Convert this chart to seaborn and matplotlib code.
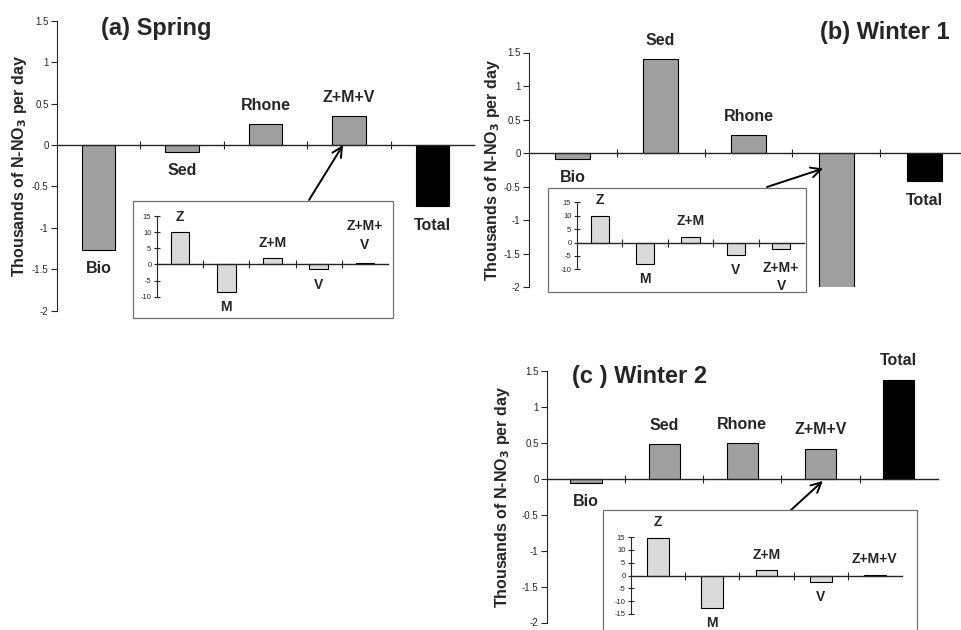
import numpy as np
import pandas as pd
import matplotlib
matplotlib.use("Agg")
import matplotlib.pyplot as plt
from matplotlib.patches import Rectangle
import seaborn as sns

# data (thousands of N-NO3 per day)
main_cats = ["Bio", "Sed", "Rhone", "Z+M+V", "Total"]
spring_vals = [-1.27, -0.085, 0.25, 0.35, -0.74]
winter1_vals = [-0.09, 1.40, 0.27, -2.03, -0.42]
winter2_vals = [-0.06, 0.485, 0.495, 0.42, 1.38]

inset_cats = ["Z", "M", "Z+M", "V", "Z+M+V"]
spring_inset = [10.1, -8.5, 1.9, -1.5, 0.3]
winter1_inset = [10.0, -8.1, 2.2, -4.6, -2.5]
winter2_inset = [14.7, -12.5, 2.1, -2.5, 0.3]
inset_labels_ab = ["Z", "M", "Z+M", "V", "Z+M+\nV"]
inset_labels_c = ["Z", "M", "Z+M", "V", "Z+M+V"]

main_yticks = [-2, -1.5, -1, -0.5, 0, 0.5, 1, 1.5]
inset_yticks_ab = [-10, -5, 0, 5, 10, 15]
inset_yticks_c = [-15, -10, -5, 0, 5, 10, 15]

sns.set_style("ticks")
plt.rcParams["font.family"] = ["Liberation Sans", "DejaVu Sans"]

W, H = 961, 630
fig = plt.figure(figsize=(W / 100, H / 100), dpi=100)


def px_axes(x0, y0, x1, y1):
    return fig.add_axes([x0 / W, 1 - y1 / H, (x1 - x0) / W, (y1 - y0) / H])


def draw_bars(ax, cats, vals, colors, labels, ylim, yticks, tick_fs, label_fs, base_off, tick_dir):
    df = pd.DataFrame({"cat": cats, "val": vals})
    sns.barplot(data=df, x="cat", y="val", hue="cat", order=cats, palette=dict(zip(cats, colors)),
                legend=False, width=0.4, edgecolor="black", linewidth=0.8, ax=ax)
    ax.set_xlim(-0.5, 4.5)
    ax.set_ylim(*ylim)
    ax.set_xlabel("")
    ax.set_ylabel("")
    for s in ["top", "right"]:
        ax.spines[s].set_visible(False)
    ax.spines["bottom"].set_position(("data", 0))
    ax.spines["left"].set_bounds(*ylim)
    ax.spines["bottom"].set_linewidth(1.0)
    ax.spines["left"].set_linewidth(0.8)
    ax.set_xticks([0.5, 1.5, 2.5, 3.5])
    ax.set_xticklabels([])
    ax.tick_params(axis="x", direction="inout", length=6, width=0.8)
    ax.set_yticks(yticks)
    ax.set_yticklabels([f"{t:g}" for t in yticks], fontsize=tick_fs)
    ax.tick_params(axis="y", direction=tick_dir, length=4, width=0.8, pad=2)
    ax.patch.set_alpha(0)
    for i, (lab, v) in enumerate(zip(labels, vals)):
        nlines = lab.count("\n") + 1
        off = base_off + 9 * (nlines - 1)
        ax.annotate(lab, (i, v), xytext=(0, off if v >= 0 else -off), textcoords="offset points",
                    ha="center", va="center", fontsize=label_fs, fontweight="bold",
                    linespacing=1.45)


main_colors = ["#a0a0a0"] * 4 + ["#000000"]
inset_colors = ["#dadada"] * 5
ylab = "Thousands of N-NO$_\\mathbf{3}$ per day"
arrow_style = dict(arrowstyle="->", lw=1.4, color="black", mutation_scale=18, shrinkA=0, shrinkB=0)


def main_panel(box, vals, label_x):
    ax = px_axes(*box)
    draw_bars(ax, main_cats, vals, main_colors, main_cats, (-2, 1.5), main_yticks, 7, 11.5, 13.5, "out")
    ax.set_ylabel(ylab, fontsize=11.5, fontweight="bold", va="center")
    ax.yaxis.set_label_coords(label_x, 0.5)
    return ax


def inset_panel(frame, box, vals, labels, ylim, yticks):
    rect = Rectangle((frame[0] / W, 1 - frame[3] / H), (frame[2] - frame[0]) / W,
                     (frame[3] - frame[1]) / H, transform=fig.transFigure,
                     facecolor="white", edgecolor="#707070", linewidth=0.9, zorder=1)
    fig.add_artist(rect)
    ax = px_axes(*box)
    ax.set_zorder(2)
    draw_bars(ax, inset_cats, vals, inset_colors, labels, ylim, yticks, 5.5, 10, 11, "inout")
    return ax


# (a) Spring
ax_a = main_panel((57, 20.7, 474, 310.7), spring_vals, -0.089)
inset_panel((133, 200.7, 393, 317.5), (157, 216, 388, 296.7), spring_inset, inset_labels_ab,
            (-10, 15), inset_yticks_ab)
ax_a.annotate("", xy=(2.93, 0.0), xytext=(309, H - 200), textcoords="figure pixels",
              arrowprops=arrow_style)
fig.text(156 / W, 1 - 29 / H, "(a) Spring", fontsize=17, fontweight="bold", ha="center", va="center")

# (b) Winter 1
ax_b = main_panel((529, 52.5, 968, 287.3), winter1_vals, -0.084)
inset_panel((548, 187.7, 806, 291.7), (577, 202.3, 804, 269.3), winter1_inset, inset_labels_ab,
            (-10, 15), inset_yticks_ab)
ax_b.annotate("", xy=(2.85, -0.23), xytext=(767, H - 187), textcoords="figure pixels",
              arrowprops=arrow_style)
fig.text(950 / W, 1 - 33 / H, "(b) Winter 1", fontsize=17, fontweight="bold", ha="right", va="center")

# (c) Winter 2
ax_c = main_panel((547, 371, 937.7, 622.5), winter2_vals, -0.113)
inset_panel((603, 510, 917, 660), (631, 537, 902, 614), winter2_inset, inset_labels_c,
            (-15, 15), inset_yticks_c)
ax_c.annotate("", xy=(3.03, -0.03), xytext=(791, H - 510), textcoords="figure pixels",
              arrowprops=arrow_style)
fig.text(640 / W, 1 - 376 / H, "(c ) Winter 2", fontsize=17, fontweight="bold", ha="center", va="center")

fig.savefig("out.png", dpi=100, facecolor="white")
